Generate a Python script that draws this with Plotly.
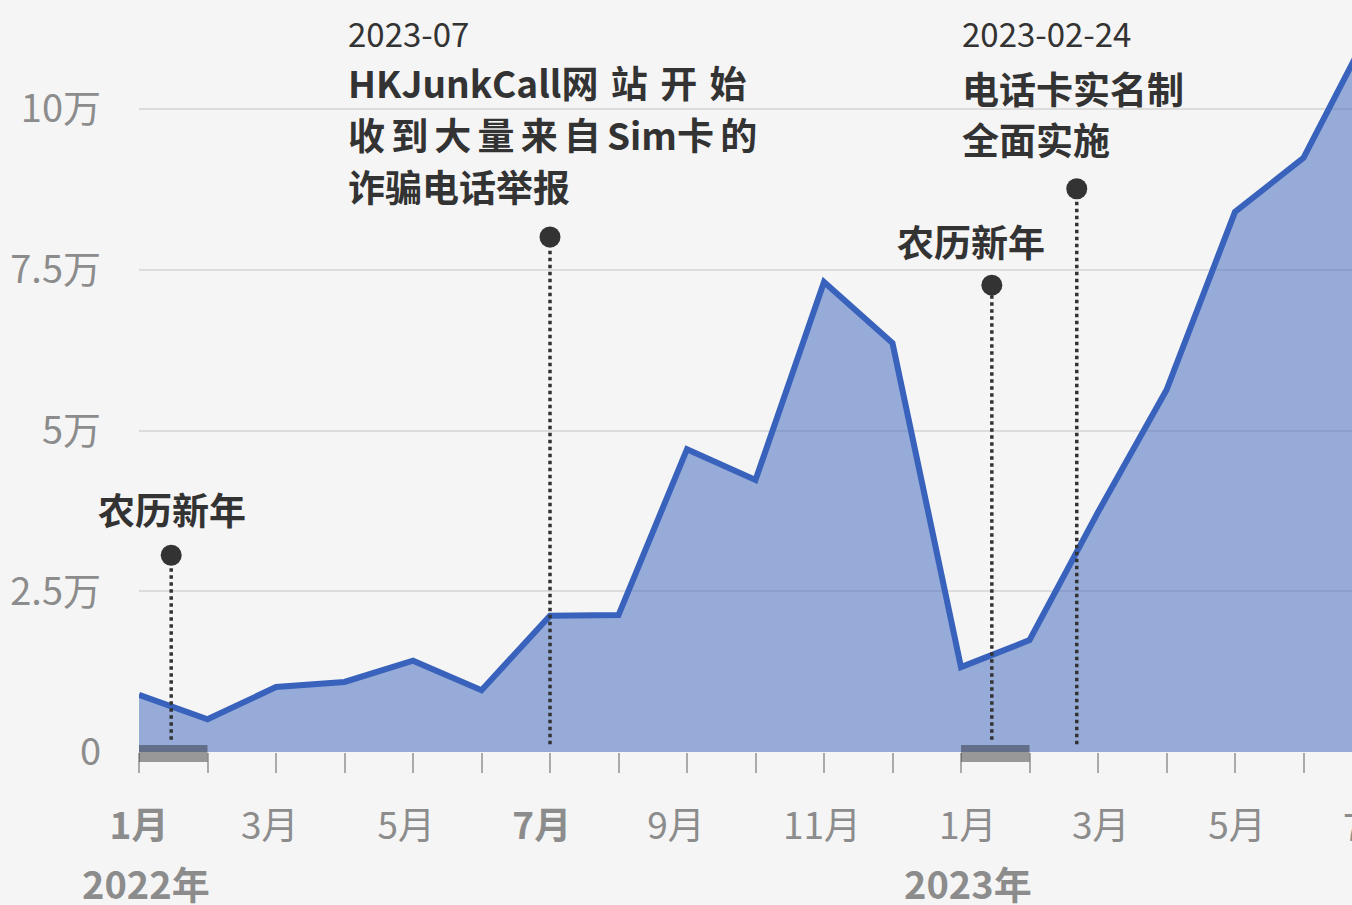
import plotly.graph_objects as go

# ---------------- data ----------------
month_index = list(range(19))  # Jan 2022 .. Jul 2023
reports = [8900, 5100, 10100, 10900, 14200, 9600, 21200, 21300, 47100, 42300,
           73100, 63600, 13200, 17400, 37300, 56300, 84000, 92400, 113000]
x_label_text = ["<b>1月</b>", "3月", "5月", "<b>7月</b>", "9月", "11月", "1月", "3月", "5月"]
x_label_pos = [0.0, 1.91, 3.9, 5.88, 7.84, 9.97, 12.1, 14.04, 16.03]
last_label_text = "7月"
last_label_pos = 18
y_tick_vals = [0, 25000, 50000, 75000, 100000]
y_tick_text = ["0", "2.5万", "5万", "7.5万", "10万"]
year_labels = ["2022年", "2023年"]
year_pos = [0.1, 12.1]

event_x = [0.47, 6.0, 12.45, 13.69]
event_y = [30600, 80100, 72600, 87600]
event_base = [1900, 1200, 1900, 1200]
shade_start = [0, 12]
shade_end = [1, 13]

# ---------------- layout geometry ----------------
W, H = 1352, 905
L, R, T, B = 139, 0, 10, 153
PX_PER_MONTH = 68.5
X_MAX = (W - L - R) / PX_PER_MONTH
Y_MAX = (H - B - T) / (752 - 109) * 100000
plot_w = W - L - R
plot_h = H - T - B


def px(xp):
    return (xp - L) / plot_w


def py(yp):
    return (H - B - yp) / plot_h


FONT = "Noto Sans CJK SC"
GRAY = "#8c8c8c"
DARK = "#333333"
SP3 = "\u2004"  # three-per-em space
SP6 = "\u2006"  # six-per-em space

fig = go.Figure()

fig.add_trace(go.Scatter(
    x=month_index, y=reports, mode="lines",
    line=dict(color="rgb(56,98,187)", width=6),
    fill="tozeroy", fillcolor="rgba(56,98,187,0.5)",
    hoverinfo="skip", showlegend=False,
))

# invisible trace carrying the label axis
fig.add_trace(go.Scatter(
    x=x_label_pos, y=[0] * len(x_label_pos), xaxis="x2", mode="markers",
    marker=dict(opacity=0), hoverinfo="skip", showlegend=False,
))

# event dotted lines
for ex, ey, eb in zip(event_x, event_y, event_base):
    fig.add_trace(go.Scatter(
        x=[ex, ex], y=[eb, ey], mode="lines",
        line=dict(color=DARK, width=3.5, dash="dot"),
        hoverinfo="skip", showlegend=False,
    ))
fig.add_trace(go.Scatter(
    x=event_x, y=event_y, mode="markers",
    marker=dict(color=DARK, size=21),
    hoverinfo="skip", showlegend=False,
))

# shaded periods (lunar new year months)
for s, e in zip(shade_start, shade_end):
    fig.add_shape(type="rect", xref="x", yref="paper",
                  x0=s, x1=e, y0=py(762), y1=py(745),
                  fillcolor="rgba(34,34,34,0.44)", line=dict(width=0), layer="above")

ann = []


def text(xp, yp, t, size, color=DARK, bold=False, anchor="left", family=FONT):
    ann.append(dict(x=px(xp), y=py(yp), xref="paper", yref="paper",
                    text=(f"<b>{t}</b>" if bold else t), showarrow=False,
                    xanchor=anchor, yanchor="middle",
                    font=dict(size=size, color=color, family=family)))


# year labels
for lab, pos in zip(year_labels, year_pos):
    ann.append(dict(x=pos, y=py(883), xref="x", yref="paper", text=f"<b>{lab}</b>",
                    showarrow=False, xanchor="center", yanchor="middle",
                    font=dict(size=38, color=GRAY, family=FONT)))

# last (partly visible) month label, beyond the right edge
ann.append(dict(x=last_label_pos * PX_PER_MONTH / plot_w, y=py(825), xref="paper", yref="paper",
                text=last_label_text, showarrow=False, xanchor="center", yanchor="middle",
                font=dict(size=37, color=GRAY, family=FONT)))

text(172, 509, "农历新年", 37, bold=True, anchor="center")
text(971, 241, "农历新年", 37, bold=True, anchor="center")
text(346, 33, "2023-07", 33)
text(346, 82, "HKJunkCall网" + SP3 + "站" + SP3 + "开" + SP3 + "始", 37, bold=True)
text(346, 134, SP6.join(["收", "到", "大", "量", "来", "自", "Sim卡", "的"]), 37, bold=True)
text(346, 186, "诈骗电话举报", 37, bold=True)
text(960, 33, "2023-02-24", 33)
text(960, 88, "电话卡实名制", 37, bold=True)
text(960, 139, "全面实施", 37, bold=True)

fig.update_layout(
    width=W, height=H,
    margin=dict(l=L, r=R, t=T, b=B, pad=0),
    paper_bgcolor="#f5f5f5", plot_bgcolor="#f5f5f5",
    annotations=ann,
    font=dict(family=FONT),
    xaxis=dict(
        range=[0, X_MAX], tickmode="array", tickvals=month_index,
        ticktext=[""] * len(month_index),
        ticks="outside", ticklen=20, tickwidth=2, tickcolor="#aaaaaa",
        showgrid=False, zeroline=False, showline=False,
    ),
    xaxis2=dict(
        range=[0, X_MAX], overlaying="x", side="bottom", anchor="y",
        tickmode="array", tickvals=x_label_pos, ticktext=x_label_text,
        ticks="", showgrid=False, zeroline=False, showline=False,
        tickfont=dict(size=37, color=GRAY, family=FONT),
        ticklabelstandoff=49,
    ),
    yaxis=dict(
        range=[0, Y_MAX], tickmode="array", tickvals=y_tick_vals, ticktext=y_tick_text,
        showgrid=True, gridcolor="#dcdcdc", gridwidth=2, zeroline=False,
        ticks="", tickfont=dict(size=38, color=GRAY, family=FONT),
        ticklabelstandoff=37,
    ),
)

fig.write_html(
    "out.html",
    config={"displayModeBar": False},
    post_script="document.body.style.margin='0';document.body.style.background='#f5f5f5';",
)
